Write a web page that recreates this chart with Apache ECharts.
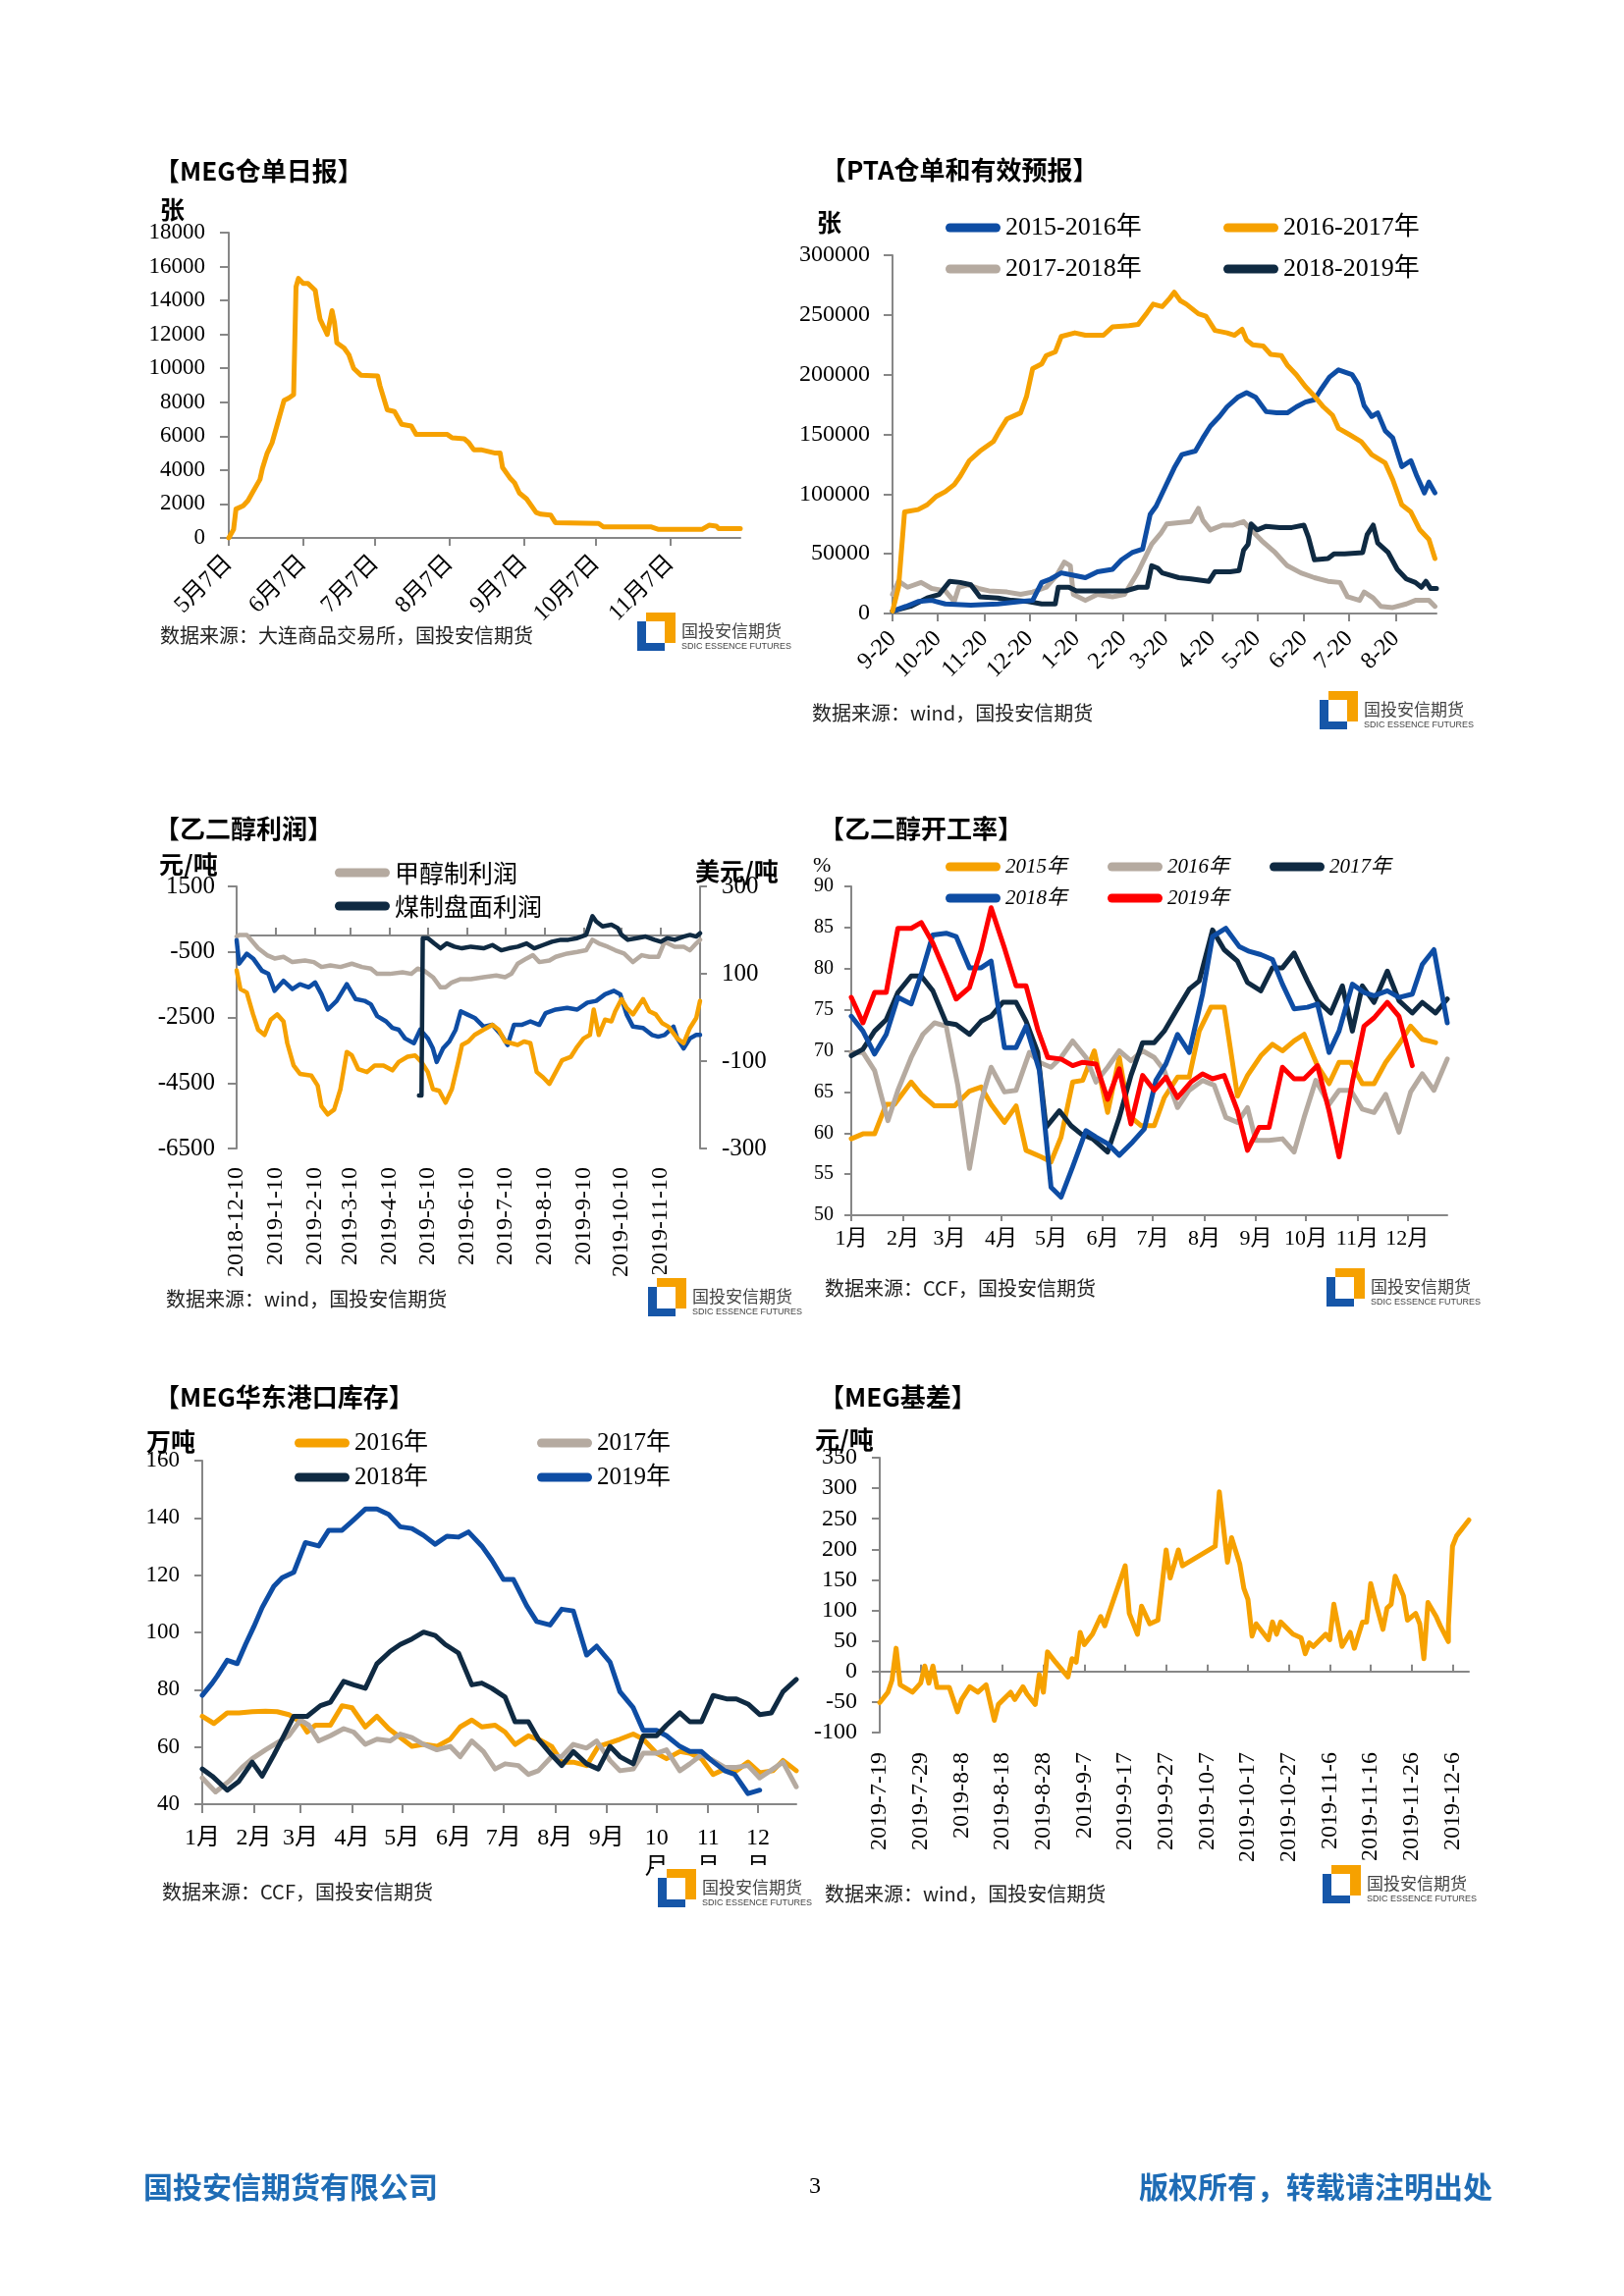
<!DOCTYPE html>
<html><head><meta charset="utf-8">
<script src="https://cdn.jsdelivr.net/npm/echarts@6/dist/echarts.min.js"></script>
<style>html,body{margin:0;padding:0;background:#fff}#c{width:1654px;height:2339px}</style>
</head><body><div id="c"></div>
<script>
// ---------------- DATA ----------------
// Chart 1: MEG仓单日报 — [days since 2019-05-07, 张]
const megWarrant = [[0,0],[2,500],[3,1700],[6,1900],[8,2200],[10,2700],[13,3450],[14,4100],[16,5000],[18,5600],[20,6600],[22,7600],[23,8100],[25,8250],[27,8450],[28,14800],[29,15300],[31,15000],[33,15000],[36,14600],[37,13700],[38,12900],[40,12300],[41,12000],[43,13400],[44,12700],[45,11500],[48,11200],[50,10800],[52,10000],[55,9600],[62,9550],[63,8950],[66,7550],[69,7450],[72,6700],[76,6600],[78,6100],[91,6100],[93,5900],[98,5850],[100,5600],[102,5200],[105,5200],[111,5000],[113,5000],[114,4150],[117,3550],[119,3250],[121,2650],[124,2300],[128,1500],[130,1400],[134,1350],[136,900],[154,850],[156,650],[176,650],[179,500],[197,500],[200,750],[203,700],[204,550],[213,550]];

// Chart 2: PTA仓单和有效预报 — [days since 9-20, 张]
const pta1516 = [[0,2000],[9,6000],[17,10000],[26,11000],[35,8000],[52,7000],[70,8000],[85,10000],[93,11000],[99,26000],[105,29000],[112,34000],[120,32000],[128,30000],[136,35000],[146,37000],[152,45000],[159,51000],[166,54000],[171,83000],[175,90000],[181,106000],[187,122000],[192,133000],[201,136000],[206,147000],[211,157000],[217,165000],[222,173000],[229,181000],[235,185000],[241,181000],[248,169000],[255,168000],[262,168000],[268,173000],[274,177000],[280,179000],[284,187000],[290,198000],[296,204000],[305,200000],[309,192000],[313,174000],[318,165000],[322,168000],[327,153000],[332,147000],[338,123000],[344,128000],[348,115000],[353,101000],[356,110000],[360,101000]];
const pta1617 = [[0,2000],[4,22000],[8,85000],[17,87000],[23,91000],[29,98000],[35,102000],[41,108000],[45,115000],[51,128000],[58,136000],[67,144000],[71,153000],[76,163000],[85,168000],[89,182000],[93,205000],[99,209000],[102,216000],[108,219000],[112,232000],[121,235000],[128,233000],[140,233000],[146,240000],[157,241000],[163,242000],[169,252000],[173,259000],[179,257000],[184,264000],[187,269000],[191,262000],[195,259000],[203,251000],[208,249000],[214,237000],[222,235000],[227,233000],[232,238000],[235,229000],[239,225000],[246,224000],[251,217000],[258,216000],[262,208000],[268,200000],[274,190000],[280,182000],[286,173000],[292,166000],[296,155000],[303,150000],[311,144000],[318,133000],[327,126000],[332,112000],[338,91000],[344,85000],[350,70000],[356,62000],[360,46000]];
const pta1718 = [[0,16000],[4,27000],[10,22000],[19,26000],[26,21000],[35,19000],[41,10000],[44,22000],[50,24000],[57,21000],[64,19000],[76,18000],[85,16000],[93,18000],[102,22000],[109,32000],[114,43000],[118,40000],[120,16000],[128,11000],[136,16000],[146,14000],[154,16000],[163,35000],[172,58000],[178,67000],[182,75000],[190,76000],[198,77000],[203,88000],[206,78000],[211,70000],[219,74000],[226,74000],[233,77000],[238,70000],[245,61000],[254,51000],[262,40000],[271,34000],[280,30000],[289,27000],[297,26000],[302,14000],[310,11000],[313,18000],[319,13000],[324,6000],[332,5000],[341,8000],[347,11000],[356,11000],[360,6000]];
const pta1819 = [[0,2000],[12,6000],[23,13000],[31,16000],[38,27000],[45,26000],[52,24000],[58,14000],[70,13000],[79,11000],[90,10000],[99,8000],[108,8000],[110,22000],[117,22000],[122,19000],[134,19000],[146,19000],[155,19000],[163,22000],[169,22000],[172,40000],[176,38000],[179,34000],[190,30000],[198,29000],[210,27000],[214,35000],[224,35000],[230,36000],[233,53000],[236,58000],[238,75000],[242,70000],[248,73000],[257,72000],[265,72000],[273,74000],[276,64000],[280,45000],[289,46000],[293,50000],[300,50000],[312,51000],[315,66000],[319,74000],[322,59000],[329,51000],[335,37000],[341,29000],[347,26000],[351,22000],[354,27000],[357,21000],[361,21000]];

// Chart 3: 乙二醇利润 — [days since 2018-12-10, value]
const profitMethanol = [[0,-30],[2,20],[8,20],[17,-390],[24,-600],[30,-700],[37,-650],[44,-810],[54,-760],[61,-810],[67,-960],[74,-910],[82,-960],[91,-860],[99,-960],[106,-1010],[111,-1170],[121,-1170],[131,-1120],[138,-1170],[143,-1010],[148,-1070],[155,-1270],[161,-1580],[165,-1580],[170,-1430],[177,-1330],[185,-1330],[195,-1270],[205,-1220],[212,-1270],[217,-1170],[222,-860],[229,-700],[234,-600],[239,-810],[247,-760],[252,-650],[261,-550],[269,-500],[276,-450],[281,-130],[286,-240],[293,-340],[299,-450],[306,-550],[313,-810],[320,-600],[326,-650],[333,-650],[338,-190],[346,-340],[353,-340],[358,-450],[363,-240],[366,-130]];
const profitCoal = [[144,-4880],[146,-4880],[147,-80],[151,-80],[156,-240],[161,-390],[166,-240],[172,-340],[178,-390],[185,-340],[195,-390],[202,-290],[209,-450],[215,-390],[222,-340],[229,-240],[235,-390],[242,-290],[249,-190],[256,-130],[262,-130],[269,-80],[276,20],[281,590],[284,430],[289,280],[296,330],[301,230],[304,20],[309,-130],[316,-80],[323,-30],[330,-130],[335,-190],[340,-80],[346,-130],[353,-30],[358,20],[363,-30],[366,70]];
const profitUsdBlue = [[0,177],[2,123],[8,146],[13,135],[20,107],[25,100],[30,61],[37,84],[44,65],[50,76],[57,69],[62,80],[67,53],[72,18],[79,38],[87,76],[94,42],[101,38],[106,30],[111,3],[118,-9],[123,-24],[128,-28],[133,-48],[140,-59],[145,-28],[151,-48],[155,-71],[158,-102],[163,-71],[168,-55],[173,-28],[177,14],[182,7],[188,-1],[195,-21],[202,-17],[209,-40],[214,-63],[219,-17],[225,-17],[232,-9],[239,-17],[244,10],[252,18],[261,22],[269,18],[277,34],[284,38],[291,53],[298,61],[303,53],[308,7],[313,-21],[321,-24],[328,-40],[333,-44],[338,-40],[345,-21],[348,-48],[353,-71],[358,-48],[363,-40],[366,-40]];
const profitUsdOrange = [[0,108],[3,65],[8,57],[13,7],[17,-28],[22,-40],[27,-5],[32,7],[37,-9],[40,-59],[45,-110],[50,-129],[59,-133],[64,-156],[67,-203],[72,-222],[77,-211],[82,-164],[87,-79],[91,-87],[96,-118],[103,-125],[109,-110],[116,-110],[123,-121],[128,-102],[135,-90],[141,-87],[146,-102],[151,-125],[155,-164],[160,-168],[165,-195],[170,-164],[175,-102],[178,-63],[183,-55],[188,-40],[195,-28],[202,-17],[207,-28],[212,-55],[217,-59],[222,-63],[227,-55],[232,-59],[237,-125],[242,-137],[247,-152],[252,-125],[257,-98],[264,-90],[269,-67],[274,-48],[279,-40],[282,18],[286,-40],[291,-5],[296,-9],[299,14],[304,42],[308,22],[313,7],[321,42],[326,14],[331,7],[336,-13],[341,-21],[348,-48],[353,-59],[358,-24],[363,-1],[366,38]];

// Chart 4: 乙二醇开工率 — [day of year, %]
const rate2015 = [[0,59.3],[7,59.9],[14,59.9],[21,63.5],[26,63.5],[36,66.2],[42,64.7],[50,63.3],[62,63.3],[67,64.3],[71,65.1],[78,65.6],[84,63.5],[92,61.3],[99,63.3],[105,57.9],[114,57.1],[120,56.5],[126,59.5],[133,66.2],[139,66.4],[146,70.0],[154,62.5],[161,69.2],[167,62.1],[174,60.9],[182,60.9],[188,64.3],[196,66.8],[203,66.8],[209,72.4],[216,75.3],[224,75.3],[232,64.5],[238,67.0],[246,69.4],[253,70.8],[259,70.0],[266,71.2],[272,72.0],[280,68.2],[287,66.0],[293,68.6],[300,68.6],[307,66.0],[314,66.0],[321,68.6],[329,70.8],[336,73.0],[343,71.4],[351,71.0]];
const rate2016 = [[0,69.8],[7,69.8],[14,67.6],[22,61.5],[28,65.2],[36,69.2],[43,72.0],[50,73.4],[57,73.0],[64,65.8],[71,55.7],[78,63.9],[84,68.0],[92,65.0],[99,65.2],[107,69.8],[113,68.6],[120,68.0],[126,69.2],[133,71.2],[141,69.2],[147,66.2],[154,68.0],[161,70.0],[168,68.8],[175,70.0],[182,69.2],[188,67.6],[196,63.1],[203,65.2],[211,66.4],[218,65.8],[225,61.9],[232,61.3],[238,63.1],[243,59.1],[251,59.1],[259,59.3],[266,57.7],[272,61.9],[279,66.4],[287,63.5],[293,65.2],[300,65.2],[307,62.9],[314,62.5],[321,64.7],[329,60.1],[336,65.0],[343,67.2],[350,65.2],[358,69.0]];
const rate2017 = [[0,69.4],[7,70.2],[14,72.4],[21,73.8],[28,77.1],[36,79.1],[42,79.1],[49,77.3],[57,73.4],[63,73.2],[71,72.0],[78,73.6],[84,74.2],[91,75.9],[99,75.9],[105,73.6],[112,69.8],[117,60.7],[125,62.7],[132,60.9],[138,59.9],[145,59.3],[154,57.7],[161,61.9],[168,67.0],[175,71.0],[182,71.0],[188,72.4],[195,74.8],[203,77.5],[209,78.5],[217,84.7],[224,82.3],[232,80.9],[238,78.3],[246,77.3],[253,80.1],[259,80.1],[266,81.9],[274,78.5],[280,76.1],[288,74.6],[295,77.9],[301,72.4],[307,77.9],[314,75.9],[322,79.7],[329,76.1],[337,74.6],[343,75.9],[351,74.6],[358,76.3]];
const rate2018 = [[0,74.2],[7,72.4],[14,69.6],[21,72.0],[28,76.5],[36,75.7],[42,79.3],[49,84.1],[57,84.3],[63,83.9],[71,80.1],[78,80.1],[84,80.9],[92,70.4],[99,70.4],[105,73.0],[113,67.6],[120,53.4],[126,52.2],[133,55.9],[141,60.3],[147,59.5],[154,58.7],[161,57.3],[169,58.9],[176,60.5],[183,66.4],[189,68.4],[196,72.0],[203,69.8],[211,76.9],[217,83.9],[225,84.9],[233,82.7],[239,82.1],[246,81.7],[253,81.1],[259,78.1],[266,75.1],[274,75.3],[280,75.7],[287,69.8],[293,72.4],[301,78.1],[308,77.1],[314,76.7],[322,77.3],[329,76.5],[337,76.9],[343,80.5],[350,82.3],[358,73.4]];
const rate2019 = [[0,76.5],[7,73.4],[14,77.1],[21,77.1],[28,84.9],[36,84.9],[42,85.6],[49,83.1],[57,79.3],[63,76.3],[71,77.7],[78,82.3],[84,87.4],[92,82.5],[99,77.9],[105,77.9],[112,72.6],[118,69.2],[126,69.0],[133,68.2],[139,68.6],[147,68.4],[154,64.1],[161,67.8],[168,61.1],[175,67.0],[182,65.2],[189,66.8],[196,64.3],[204,66.2],[211,67.2],[217,66.6],[224,67.0],[232,62.7],[238,57.9],[245,60.7],[251,60.7],[259,68.0],[266,66.6],[272,66.6],[280,68.2],[287,62.7],[293,57.1],[301,66.2],[308,73.0],[314,74.0],[322,75.9],[329,74.2],[337,68.2]];

// Chart 5: MEG华东港口库存 — [day of year, 万吨]
const stock2016 = [[0,70.7],[7,68.2],[15,71.9],[22,71.9],[30,72.3],[38,72.5],[45,72.3],[52,71.3],[59,68.8],[63,65.2],[68,67.6],[77,67.6],[84,74.4],[90,73.7],[98,67.0],[105,70.7],[112,66.4],[119,63.3],[126,60.2],[133,60.9],[141,60.2],[149,62.7],[155,67.0],[162,69.4],[168,67.0],[176,67.6],[182,65.2],[188,60.9],[196,63.9],[202,62.7],[210,60.2],[216,54.7],[223,54.7],[231,53.5],[238,60.2],[245,61.5],[251,62.7],[259,64.5],[265,62.7],[273,57.8],[279,55.9],[287,58.4],[293,57.8],[300,55.9],[307,50.4],[314,52.3],[321,51.7],[328,54.7],[335,51.0],[343,51.7],[349,55.3],[357,51.7]];
const stock2017 = [[0,49.2],[8,44.3],[16,48.0],[24,52.9],[30,55.9],[38,59.0],[45,61.5],[52,63.9],[59,69.4],[64,67.6],[70,62.1],[77,63.9],[85,66.4],[91,65.2],[98,60.9],[105,62.7],[113,62.1],[119,64.5],[126,63.3],[133,60.9],[141,59.0],[149,60.2],[155,56.6],[162,62.1],[169,58.4],[176,52.3],[182,54.1],[190,53.5],[196,50.4],[202,51.7],[210,56.6],[216,56.6],[223,60.9],[231,59.6],[237,62.1],[245,55.3],[251,51.7],[259,52.3],[265,57.8],[273,57.8],[279,59.0],[287,51.7],[293,54.1],[300,57.2],[307,55.3],[314,52.9],[321,52.9],[328,53.5],[335,49.2],[343,52.3],[349,54.7],[357,46.1]];
const stock2018 = [[0,52.3],[6,49.8],[15,44.9],[22,48.0],[30,54.7],[36,49.8],[43,57.2],[49,63.9],[55,70.7],[63,70.7],[71,74.4],[77,75.6],[85,82.9],[91,81.7],[98,80.5],[105,89.1],[113,93.4],[119,95.8],[126,97.7],[133,100.1],[140,98.9],[146,95.8],[154,92.8],[162,81.7],[168,82.3],[174,80.5],[182,77.4],[188,68.8],[196,68.8],[202,62.7],[210,57.2],[216,53.5],[223,58.4],[231,54.1],[238,52.3],[245,60.2],[251,56.6],[259,54.1],[265,63.9],[273,63.9],[279,67.6],[287,71.9],[293,68.8],[300,68.8],[307,78.0],[315,76.8],[321,76.8],[328,75.0],[335,71.3],[342,71.9],[349,79.3],[357,83.6]];
const stock2019 = [[0,78.0],[6,82.3],[9,84.8],[15,90.3],[21,89.1],[26,95.8],[31,102.0],[36,108.7],[43,116.1],[48,119.1],[55,121.0],[62,131.4],[70,130.2],[76,135.7],[84,135.7],[90,138.8],[98,143.1],[105,143.1],[112,141.2],[119,136.9],[126,136.3],[133,133.9],[140,130.8],[147,133.6],[154,133.3],[160,135.1],[168,130.2],[174,125.3],[181,118.5],[187,118.5],[195,109.3],[201,103.8],[209,102.6],[216,108.1],[223,107.5],[231,92.1],[237,95.2],[245,89.7],[251,79.3],[259,73.7],[265,65.8],[273,65.8],[279,63.9],[287,60.2],[293,58.4],[300,58.4],[306,55.3],[314,51.7],[320,50.4],[328,43.7],[335,44.9]];

// Chart 6: MEG基差 — [days since 2019-07-19, 元/吨]
const basis = [[0,-51],[2,-34],[3,-14],[4,38],[5,-22],[8,-34],[10,-19],[11,9],[12,-19],[13,9],[14,-26],[17,-26],[19,-66],[20,-46],[22,-25],[24,-34],[26,-22],[28,-80],[29,-54],[32,-34],[33,-46],[35,-25],[36,-37],[38,-54],[39,-5],[40,-34],[41,32],[43,15],[46,-9],[47,21],[48,15],[49,64],[50,44],[52,61],[54,90],[55,75],[56,95],[60,173],[61,95],[63,61],[64,107],[66,78],[68,84],[70,199],[71,153],[73,199],[74,173],[82,205],[83,294],[85,179],[86,219],[88,176],[89,136],[90,118],[91,58],[92,78],[95,52],[96,81],[97,61],[98,81],[101,61],[103,55],[104,29],[105,47],[106,41],[109,61],[110,52],[111,110],[113,41],[115,64],[116,38],[118,81],[119,81],[120,144],[121,118],[123,69],[124,104],[125,110],[126,156],[128,124],[129,84],[131,95],[132,78],[133,21],[134,113],[136,90],[137,75],[139,49],[139,75],[140,205],[141,222],[144,248]];

// ---------------- HELPERS ----------------
function makeDays(y, m, d, n, fmt) {
  const out = [];
  for (let i = 0; i < n; i++) {
    const t = new Date(Date.UTC(y, m - 1, d + i));
    out.push(fmt(t.getUTCFullYear(), t.getUTCMonth() + 1, t.getUTCDate()));
  }
  return out;
}
const megDates = makeDays(2019, 5, 7, 214, (y, m, d) => m + '月' + d + '日');
const ptaDates = makeDays(2018, 9, 20, 362, (y, m, d) => m + '-' + d);
const profitDates = makeDays(2018, 12, 10, 367, (y, m, d) => y + '-' + m + '-' + d);
const rateDates = makeDays(2019, 1, 1, 359, (y, m, d) => m + '月' + d + '日');
const stockDates = makeDays(2019, 1, 1, 358, (y, m, d) => m + '月' + d + '日');
const basisDates = makeDays(2019, 7, 19, 145, (y, m, d) => y + '-' + m + '-' + d);

const ORANGE = '#F6A100', BLUE = '#0E4DA4', NAVY = '#0F2A42', GRAY = '#B5AAA0', RED = '#FF0000';
const AXIS = '#878787';
const SERIF = '"Liberation Serif", "Noto Sans CJK SC", serif';
const CJK = '"Noto Sans CJK SC", sans-serif';
const CAPSULE = 'path://M4.5,0 L51.5,0 A4.5,4.5 0 0 1 51.5,9 L4.5,9 A4.5,4.5 0 0 1 4.5,0 Z';

const axLine = { show: true, lineStyle: { color: AXIS, width: 2 } };

function yAx(grid, min, max, interval, fs, margin, tick, pos) {
  return {
    gridIndex: grid, type: 'value', min, max, interval, position: pos || 'left',
    axisLine: axLine, axisTick: { show: true, length: tick, lineStyle: { color: AXIS, width: 2 } },
    axisLabel: { fontSize: fs, margin, color: '#000', fontFamily: SERIF, formatter: v => String(v) },
    splitLine: { show: false }
  };
}
function xAx(grid, data, intervalFn, opts) {
  const o = opts || {};
  return {
    gridIndex: grid, type: 'category', data, boundaryGap: false,
    axisLine: o.noLine ? { show: false, onZero: false } : Object.assign({}, axLine, { onZero: !!o.onZero, onZeroAxisIndex: o.onZeroAxisIndex }),
    axisTick: o.noTick ? { show: false } : { show: true, interval: intervalFn, length: o.tick || 8, lineStyle: { color: AXIS, width: 2 } },
    axisLabel: o.noLabel ? { show: false } : {
      interval: intervalFn, rotate: o.rotate || 0, fontSize: o.fs || 22, margin: o.margin || 10,
      color: '#000', fontFamily: SERIF, formatter: o.formatter, lineHeight: o.lineHeight
    },
    splitLine: { show: false }
  };
}
function ln(name, xi, yi, data, color, w) {
  return { type: 'line', name, xAxisIndex: xi, yAxisIndex: yi, data, symbol: 'none', showSymbol: false,
    color, lineStyle: { color, width: w || 5, cap: 'round', join: 'round' }, animation: false, silent: true };
}
function leg(name, color, left, cy, fs, extra) {
  return {
    data: [{ name, itemStyle: { color, borderColor: color, borderWidth: 0 } }],
    left, top: cy - fs / 2, padding: 0, icon: CAPSULE, itemWidth: 56, itemHeight: 9,
    selectedMode: false, textStyle: Object.assign({ fontSize: fs, fontFamily: SERIF, color: '#000' }, extra || {})
  };
}
function txt(x, y, text, font, color, align) {
  const a = align || 'left';
  return { type: 'text', x, y, z: 100, style: { text, font, fill: color || '#000', align: a, verticalAlign: 'middle', textAlign: a, textVerticalAlign: 'middle' } };
}
function logo(x, y) {
  return { type: 'group', x, y, z: 100, children: [
    { type: 'rect', z: 100, shape: { x: -4, y: -4, width: 156, height: 48 }, style: { fill: '#fff' } },
    { type: 'rect', z: 101, shape: { x: 0, y: 9, width: 9, height: 30 }, style: { fill: '#1656A8' } },
    { type: 'rect', z: 101, shape: { x: 0, y: 31, width: 28, height: 8 }, style: { fill: '#1656A8' } },
    { type: 'rect', z: 101, shape: { x: 9, y: 0, width: 30, height: 9 }, style: { fill: ORANGE } },
    { type: 'rect', z: 101, shape: { x: 28, y: 0, width: 11, height: 31 }, style: { fill: ORANGE } },
    { type: 'text', z: 101, x: 45, y: 19, style: { text: '国投安信期货', font: '17px ' + CJK, fill: '#444', verticalAlign: 'middle', textVerticalAlign: 'middle' } },
    { type: 'text', z: 101, x: 45, y: 35, style: { text: 'SDIC ESSENCE FUTURES', font: '9px "Liberation Sans Narrow", "Liberation Sans", sans-serif', fill: '#444', verticalAlign: 'middle', textVerticalAlign: 'middle' } }
  ] };
}

const megInt = (i, v) => v.endsWith('月7日');
const ptaInt = (i, v) => v.split('-')[1] === '20';
const profitInt = (i, v) => v.split('-')[2] === '10' && i < 360;
const monthInt = (i, v) => v.endsWith('月1日');
const basisInt = (i) => i % 10 === 0;

const TITLE = 'bold 26px ' + CJK;
const UNIT = 'bold 25px ' + CJK;
const SRC = '20px ' + CJK;

const option = {
  backgroundColor: '#fff',
  animation: false,
  textStyle: { fontFamily: SERIF },
  grid: [
    { left: 233, top: 237, width: 521, height: 311 },
    { left: 909, top: 260, width: 554, height: 365 },
    { left: 241, top: 903, width: 472, height: 267 },
    { left: 867, top: 903, width: 607, height: 335 },
    { left: 206, top: 1488, width: 605, height: 350 },
    { left: 896, top: 1485, width: 600, height: 280 }
  ],
  xAxis: [
    xAx(0, megDates, megInt, { rotate: 45, fs: 24, margin: 22, tick: 8 }),
    xAx(1, ptaDates, ptaInt, { rotate: 45, fs: 24, margin: 22, tick: 8 }),
    xAx(2, profitDates, profitInt, { noLine: true, noTick: true, rotate: 90, fs: 24, margin: 19 }),
    xAx(2, profitDates, profitInt, { noLabel: true, onZero: true, onZeroAxisIndex: 2, tick: 8 }),
    xAx(3, rateDates, monthInt, { fs: 22, margin: 13, tick: 6, formatter: v => v.split('月')[0] + '月' }),
    xAx(4, stockDates, monthInt, { fs: 24, margin: 20, tick: 9, lineHeight: 30,
      formatter: v => { const m = +v.split('月')[0]; return m < 10 ? m + '月' : m + '\n月'; } }),
    xAx(5, basisDates, basisInt, { noLine: true, noTick: true, rotate: 90, fs: 24, margin: 20 }),
    xAx(5, basisDates, basisInt, { noLabel: true, onZero: true, onZeroAxisIndex: 6, tick: 7 })
  ],
  yAxis: [
    yAx(0, 0, 18000, 2000, 23, 24, 9),
    yAx(1, 0, 300000, 50000, 24, 23, 9),
    yAx(2, -6500, 1500, 2000, 25, 22, 9),
    yAx(2, -300, 300, 200, 25, 22, 7, 'right'),
    yAx(3, 50, 90, 5, 20, 18, 7),
    yAx(4, 40, 160, 20, 23, 23, 8),
    yAx(5, -100, 350, 50, 24, 23, 8)
  ],
  legend: [
    leg('2015-2016年', BLUE, 963, 232, 26),
    leg('2016-2017年', ORANGE, 1246, 232, 26),
    leg('2017-2018年', GRAY, 963, 274, 26),
    leg('2018-2019年', NAVY, 1246, 274, 26),
    leg('甲醇制利润', GRAY, 341, 889, 25, { fontFamily: CJK }),
    leg('煤制盘面利润', NAVY, 341, 923, 25, { fontFamily: CJK }),
    leg('2015年', ORANGE, 963, 883, 21, { fontStyle: 'italic' }),
    leg('2016年', GRAY, 1128, 883, 21, { fontStyle: 'italic' }),
    leg('2017年', NAVY, 1293, 883, 21, { fontStyle: 'italic' }),
    leg('2018年', BLUE, 963, 915, 21, { fontStyle: 'italic' }),
    leg('2019年', RED, 1128, 915, 21, { fontStyle: 'italic' }),
    leg('2016年', ORANGE, 300, 1470, 25),
    leg('2017年', GRAY, 547, 1470, 25),
    leg('2018年', NAVY, 300, 1505, 25),
    leg('2019年', BLUE, 547, 1505, 25)
  ],
  series: [
    ln('MEG仓单', 0, 0, megWarrant, ORANGE),
    ln('2017-2018年', 1, 1, pta1718, GRAY),
    ln('2018-2019年', 1, 1, pta1819, NAVY),
    ln('2015-2016年', 1, 1, pta1516, BLUE),
    ln('2016-2017年', 1, 1, pta1617, ORANGE),
    ln('甲醇制利润', 2, 2, profitMethanol, GRAY, 4.5),
    ln('乙烯制利润', 2, 3, profitUsdBlue, BLUE, 4.5),
    ln('石脑油制利润', 2, 3, profitUsdOrange, ORANGE, 4.5),
    ln('煤制盘面利润', 2, 2, profitCoal, NAVY, 4.5),
    ln('2015年', 4, 4, rate2015, ORANGE),
    ln('2016年', 4, 4, rate2016, GRAY),
    ln('2017年', 4, 4, rate2017, NAVY),
    ln('2018年', 4, 4, rate2018, BLUE),
    ln('2019年', 4, 4, rate2019, RED),
    ln('2016年', 5, 5, stock2016, ORANGE),
    ln('2017年', 5, 5, stock2017, GRAY),
    ln('2019年', 5, 5, stock2019, BLUE),
    ln('2018年', 5, 5, stock2018, NAVY),
    ln('MEG基差', 6, 6, basis, ORANGE)
  ],
  graphic: { elements: [
    txt(157, 174, '【MEG仓单日报】', TITLE),
    txt(163, 213, '张', UNIT),
    txt(163, 647, '数据来源：大连商品交易所，国投安信期货', SRC, '#222'),
    logo(649, 624),

    txt(836, 173, '【PTA仓单和有效预报】', TITLE),
    txt(832, 226, '张', UNIT),
    txt(827, 726, '数据来源：wind，国投安信期货', SRC, '#222'),
    logo(1344, 704),

    txt(157, 844, '【乙二醇利润】', TITLE),
    txt(162, 880, '元/吨', UNIT),
    txt(708, 887, '美元/吨', UNIT),
    txt(169, 1323, '数据来源：wind，国投安信期货', SRC, '#222'),
    logo(660, 1302),

    txt(834, 844, '【乙二醇开工率】', TITLE),
    txt(828, 882, '%', '22px ' + SERIF),
    txt(840, 1312, '数据来源：CCF，国投安信期货', SRC, '#222'),
    logo(1351, 1292),

    txt(157, 1423, '【MEG华东港口库存】', TITLE),
    txt(149, 1468, '万吨', UNIT),
    txt(165, 1927, '数据来源：CCF，国投安信期货', SRC, '#222'),
    logo(670, 1904),

    txt(834, 1423, '【MEG基差】', TITLE),
    txt(830, 1466, '元/吨', UNIT),
    txt(840, 1929, '数据来源：wind，国投安信期货', SRC, '#222'),
    logo(1347, 1900),

    txt(146, 2228, '国投安信期货有限公司', 'bold 30px ' + CJK, '#1E6CB5'),
    txt(830, 2228, '3', '24px ' + SERIF, '#000', 'center'),
    txt(1520, 2228, '版权所有，转载请注明出处', 'bold 30px ' + CJK, '#1E6CB5', 'right')
  ] }
};

const chart = echarts.init(document.getElementById('c'), null, { renderer: 'canvas' });
chart.setOption(option);
</script></body></html>
